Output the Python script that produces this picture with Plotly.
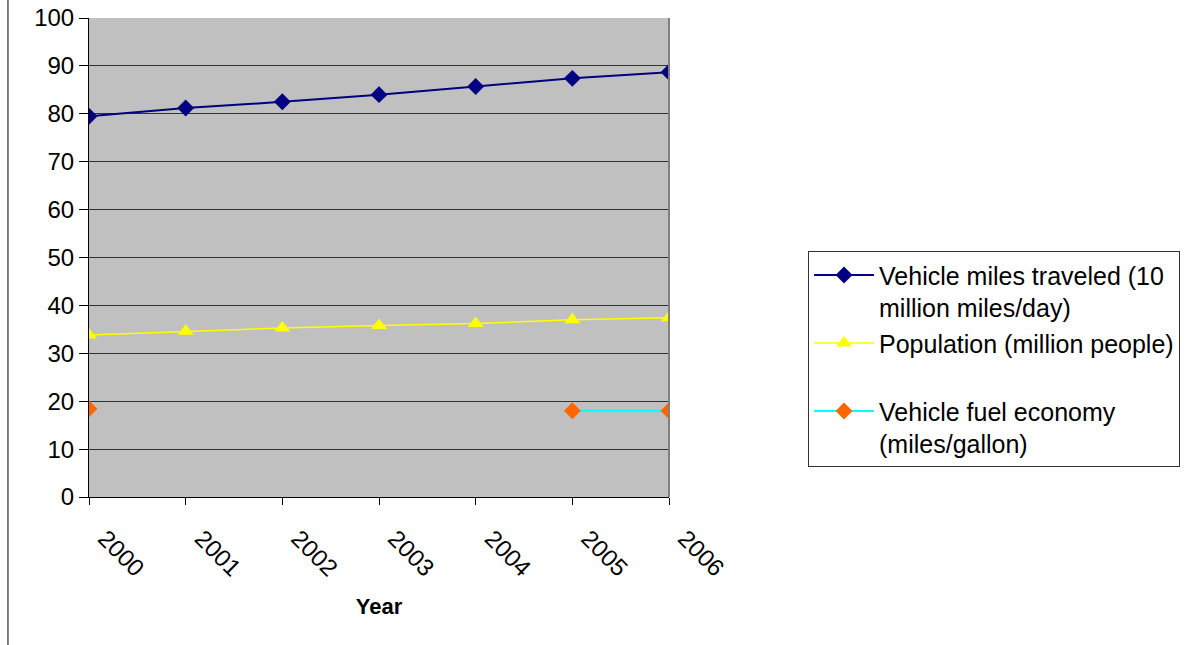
import plotly.graph_objects as go

years = [2000, 2001, 2002, 2003, 2004, 2005, 2006]
vmt = [79.5, 81.2, 82.5, 84.0, 85.7, 87.4, 88.7]
population = [33.8, 34.6, 35.3, 35.8, 36.2, 37.0, 37.4]
fuel_economy = [18.4, None, None, None, None, 18.0, 18.0]

FONT = "Liberation Sans, Arial, sans-serif"

fig = go.Figure()
fig.add_trace(go.Scatter(
    x=years, y=vmt, mode="lines+markers",
    name="Vehicle miles traveled (10<br>million miles/day)",
    line=dict(color="#000080", width=2),
    marker=dict(symbol="diamond", size=13, color="#000080"),
))
fig.add_trace(go.Scatter(
    x=years, y=population, mode="lines+markers",
    name="Population (million people)<br> ",
    line=dict(color="#FFFF00", width=1.5),
    marker=dict(symbol="triangle-up", size=14, color="#FFFF00"),
))
fig.add_trace(go.Scatter(
    x=years, y=fuel_economy, mode="lines+markers",
    name="Vehicle fuel economy<br>(miles/gallon)",
    line=dict(color="#00FFFF", width=2),
    marker=dict(symbol="diamond", size=13, color="#FF6600"),
    connectgaps=False,
))

fig.update_layout(
    width=1193, height=645,
    margin=dict(l=89, r=524, t=18, b=148, autoexpand=False),
    paper_bgcolor="white",
    plot_bgcolor="#C0C0C0",
    font=dict(family=FONT, size=24, color="black"),
    showlegend=True,
    legend=dict(
        x=1.2397, y=0.513, xanchor="left", yanchor="top",
        bgcolor="white", bordercolor="#333333", borderwidth=1,
        font=dict(family=FONT, size=25, color="black"),
        valign="top", itemwidth=60, tracegroupgap=0,
    ),
    xaxis=dict(
        range=[2000, 2006], tickmode="array", tickvals=years,
        ticktext=[str(y) for y in years], tickangle=45,
        ticks="outside", ticklen=7, tickcolor="black",
        ticklabelstandoff=10, ticklabelshift=16,
        showline=True, linecolor="black", linewidth=1,
        showgrid=False, zeroline=False,
        title=dict(text="<b>Year</b>", font=dict(family=FONT, size=22), standoff=18),
        tickfont=dict(family=FONT, size=24),
    ),
    yaxis=dict(
        range=[0, 100], tickmode="array", tickvals=list(range(0, 101, 10)),
        ticks="outside", ticklen=9, tickcolor="black",
        showline=True, linecolor="black", linewidth=1,
        showgrid=True, gridcolor="#333333", gridwidth=1, zeroline=False,
        tickfont=dict(family=FONT, size=24), ticklabeloverflow="allow",
    ),
)

# plot-area border (right side in gray)
fig.add_shape(type="line", xref="paper", yref="paper", x0=1, x1=1, y0=0, y1=1,
              line=dict(color="#808080", width=2), layer="above")
# chart area left border
fig.add_shape(type="line", xref="paper", yref="paper", x0=-0.1397, x1=-0.1397,
              y0=-0.31, y1=1.04, line=dict(color="black", width=1))

fig.write_html("out.html", post_script="document.body.style.margin='0';",
               config={"displayModeBar": False})
